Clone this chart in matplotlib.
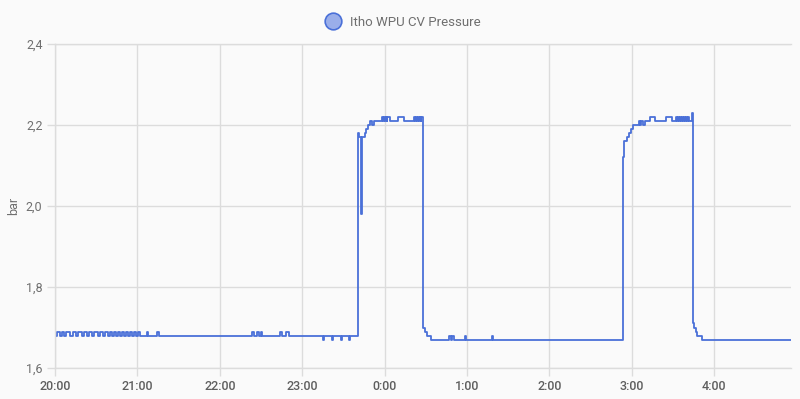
import matplotlib.pyplot as plt
from matplotlib.lines import Line2D

# minutes since 20:00 and pressure in bar (value holds until next point)
minutes = [0, 1.5, 3.6, 5.1, 6.6, 8.0, 10.9, 13.1, 15.3, 16.7, 19.7, 21.1, 23.3, 24.8, 26.9,
           28.4, 31.3, 32.8, 35.0, 36.4, 38.6, 40.0, 41.5, 43.0, 44.4, 45.9, 47.3, 48.8, 50.2,
           51.7, 53.1, 54.6, 56.1, 57.5, 59.0, 60.4, 61.9, 67.0, 68.0, 74.3, 75.4,
           143.5, 145.0, 147.0, 148.5, 150.0, 150.7, 163.8, 165.3, 168.2, 170.4,
           195.2, 196.0, 201.7, 202.5, 208.3, 209.0, 214.0, 214.8,
           220.6, 221.5, 223.0, 223.6, 225.5, 226.5, 227.9, 229.4, 230.5, 232.0,
           238.1, 239.0, 239.5, 240.3, 240.8, 241.6, 242.1, 244.0, 249.8, 254.2,
           261.5, 262.3, 262.8, 263.6, 264.1, 265.0, 265.5, 266.3, 266.8,
           268.2, 269.7, 271.1,
           274.0, 287.0, 288.2, 289.0, 290.3, 298.4, 299.0, 318.5, 319.3,
           413.8, 414.6, 416.5, 418.0, 419.4, 420.9, 425.3, 426.0, 427.0, 428.0, 429.7, 433.4,
           437.0, 445.1, 449.5, 452.2, 453.0, 453.5, 454.4, 454.9, 455.8, 456.3, 457.3, 457.8,
           459.0, 459.5, 460.4, 460.9, 461.7, 464.1, 464.6, 465.3,
           466.8, 467.5, 470.9, 536]
pressure = [1.68, 1.69, 1.68, 1.69, 1.68, 1.69, 1.68, 1.69, 1.68, 1.69, 1.68, 1.69, 1.68, 1.69, 1.68,
            1.69, 1.68, 1.69, 1.68, 1.69, 1.68, 1.69, 1.68, 1.69, 1.68, 1.69, 1.68, 1.69, 1.68,
            1.69, 1.68, 1.69, 1.68, 1.69, 1.68, 1.69, 1.68, 1.69, 1.68, 1.69, 1.68,
            1.69, 1.68, 1.69, 1.68, 1.69, 1.68, 1.69, 1.68, 1.69, 1.68,
            1.67, 1.68, 1.67, 1.68, 1.67, 1.68, 1.67, 1.68,
            2.18, 2.17, 1.98, 2.17, 2.18, 2.19, 2.20, 2.21, 2.20, 2.21,
            2.22, 2.21, 2.22, 2.21, 2.22, 2.21, 2.22, 2.21, 2.22, 2.21,
            2.22, 2.21, 2.22, 2.21, 2.22, 2.21, 2.22, 2.21, 2.22,
            1.70, 1.69, 1.68,
            1.67, 1.68, 1.67, 1.68, 1.67, 1.68, 1.67, 1.68, 1.67,
            2.12, 2.16, 2.17, 2.18, 2.19, 2.20, 2.21, 2.20, 2.21, 2.20, 2.21, 2.22,
            2.21, 2.22, 2.21, 2.22, 2.21, 2.22, 2.21, 2.22, 2.21, 2.22, 2.21, 2.22,
            2.21, 2.22, 2.21, 2.22, 2.21, 2.23, 1.71, 1.70,
            1.69, 1.68, 1.67, 1.67]

x_ticks = [0, 60, 120, 180, 240, 300, 360, 420, 480]
x_labels = ['20:00', '21:00', '22:00', '23:00', '0:00', '1:00', '2:00', '3:00', '4:00']
y_ticks = [1.6, 1.8, 2.0, 2.2, 2.4]
series_name = 'Itho WPU CV Pressure'

plt.rcParams['font.family'] = ['Roboto', 'DejaVu Sans']
bg = '#fafafa'
grid_c = '#dcdcdc'
text_c = '#6f6f6f'
line_c = '#4a70d8'

fig = plt.figure(figsize=(8, 3.99), dpi=100, facecolor=bg)
ax = fig.add_axes([55 / 800, 1 - 368 / 399, 736 / 800, 324 / 399], facecolor=bg)

ax.step(minutes, pressure, where='post', color=line_c, lw=1.3)

ax.set_xlim(0, 536)
ax.set_ylim(1.6, 2.4)
ax.set_xticks(x_ticks)
ax.set_xticklabels(x_labels, fontsize=9, color='#5e5e5e', fontweight='medium')
ax.set_yticks(y_ticks)
ax.set_yticklabels([('%.1f' % v).replace('.', ',') for v in y_ticks], fontsize=9, color=text_c)
ax.tick_params(axis='both', length=6, width=1, color=grid_c, pad=3)
ax.grid(True, color=grid_c, lw=1)
ax.set_axisbelow(True)
ax.spines['right'].set_visible(False)
for s in ['left', 'bottom', 'top']:
    ax.spines[s].set_color(grid_c)
    ax.spines[s].set_linewidth(1)

ax.set_ylabel('bar', fontsize=9, color=text_c, labelpad=4)

handle = Line2D([], [], marker='o', ls='none', markersize=12, markerfacecolor='#9aaeea',
                markeredgecolor=line_c, markeredgewidth=1.2)
fig.legend([handle], [series_name], loc='center', bbox_to_anchor=(0.5, 1 - 22 / 399),
           frameon=False, fontsize=9.5, labelcolor=text_c, handletextpad=0.3, borderpad=0)

fig.savefig('out.png', dpi=100, facecolor=bg)
